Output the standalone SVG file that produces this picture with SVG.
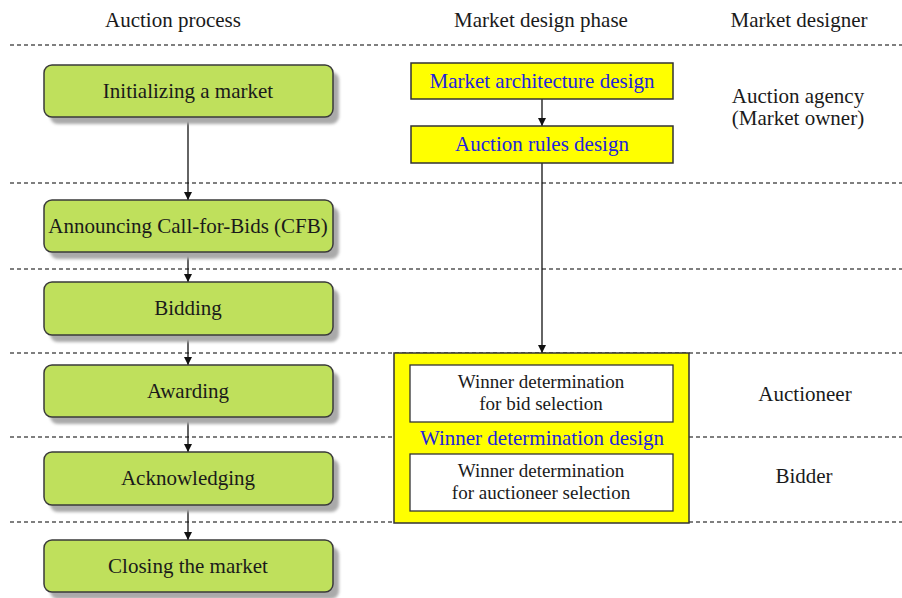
<svg xmlns="http://www.w3.org/2000/svg" width="902" height="598" viewBox="0 0 902 598">
<style>
text{font-family:"Liberation Serif","Times New Roman",serif;font-size:21px;fill:#1a1a1a;text-anchor:middle}
.blue{fill:#2323dd}
.small{font-size:19px}
.dash{stroke:#555;stroke-width:1.3;stroke-dasharray:4 3;fill:none}
.green{fill:#bfe05c;stroke:#3a3a3a;stroke-width:1.5}
.shadow{fill:#aaaaaa}
.yel{fill:#ffff00;stroke:#333;stroke-width:1.5}
.white{fill:#fff;stroke:#333;stroke-width:1.3}
.conn{stroke:#111;stroke-width:1.3;fill:none;marker-end:url(#ah)}
</style>
<defs>
<marker id="ah" markerWidth="10" markerHeight="10" refX="9" refY="5" orient="auto" markerUnits="userSpaceOnUse">
<path d="M1,1 L9,5 L1,9 Z" fill="#111"/>
</marker>
<filter id="blur" x="-10%" y="-20%" width="120%" height="140%"><feGaussianBlur stdDeviation="1.5"/></filter>
</defs>
<rect width="902" height="598" fill="#fff"/>
<g id="headers">
<text x="173" y="27">Auction process</text>
<text x="541" y="27">Market design phase</text>
<text x="799" y="27">Market designer</text>
</g>
<g id="separators">
<line class="dash" x1="10" y1="45" x2="902" y2="45"/>
<line class="dash" x1="10" y1="183" x2="902" y2="183"/>
<line class="dash" x1="10" y1="269" x2="902" y2="269"/>
<line class="dash" x1="10" y1="353" x2="902" y2="353"/>
<line class="dash" x1="10" y1="437" x2="902" y2="437"/>
<line class="dash" x1="10" y1="522" x2="902" y2="522"/>
</g>
<g id="connectors">
<line class="conn" x1="188" y1="117" x2="188" y2="200"/>
<line class="conn" x1="188" y1="252" x2="188" y2="282"/>
<line class="conn" x1="188" y1="335" x2="188" y2="365"/>
<line class="conn" x1="188" y1="417" x2="188" y2="452"/>
<line class="conn" x1="188" y1="505" x2="188" y2="540"/>
<line class="conn" x1="542" y1="99" x2="542" y2="126"/>
<line class="conn" x1="542" y1="163" x2="542" y2="353"/>
</g>
<g id="initializing">
<rect class="shadow" filter="url(#blur)" x="50" y="72" width="289" height="52" rx="8"/>
<rect class="green" x="44" y="65" width="289" height="52" rx="8"/>
<text x="188" y="98">Initializing a market</text>
</g>
<g id="announcing">
<rect class="shadow" filter="url(#blur)" x="50" y="207" width="289" height="52" rx="8"/>
<rect class="green" x="44" y="200" width="289" height="52" rx="8"/>
<text x="188" y="233">Announcing Call-for-Bids (CFB)</text>
</g>
<g id="bidding">
<rect class="shadow" filter="url(#blur)" x="50" y="289" width="289" height="53" rx="8"/>
<rect class="green" x="44" y="282" width="289" height="53" rx="8"/>
<text x="188" y="315">Bidding</text>
</g>
<g id="awarding">
<rect class="shadow" filter="url(#blur)" x="50" y="372" width="289" height="52" rx="8"/>
<rect class="green" x="44" y="365" width="289" height="52" rx="8"/>
<text x="188" y="398">Awarding</text>
</g>
<g id="acknowledging">
<rect class="shadow" filter="url(#blur)" x="50" y="459" width="289" height="53" rx="8"/>
<rect class="green" x="44" y="452" width="289" height="53" rx="8"/>
<text x="188" y="485">Acknowledging</text>
</g>
<g id="closing">
<rect class="shadow" filter="url(#blur)" x="50" y="547" width="289" height="52" rx="8"/>
<rect class="green" x="44" y="540" width="289" height="52" rx="8"/>
<text x="188" y="573">Closing the market</text>
</g>
<g id="architecture">
<rect class="yel" x="411" y="63" width="262" height="36"/>
<text class="blue" x="542" y="88">Market architecture design</text>
</g>
<g id="rules">
<rect class="yel" x="411" y="126" width="262" height="37"/>
<text class="blue" x="542" y="151">Auction rules design</text>
</g>
<g id="winner-design">
<rect class="yel" x="394" y="353" width="295" height="170" stroke-width="2"/>
<text class="blue" x="542" y="445">Winner determination design</text>
</g>
<g id="bid-selection">
<rect class="white" x="410" y="365" width="263" height="57"/>
<text class="small" x="541" y="388">Winner determination</text>
<text class="small" x="541" y="410">for bid selection</text>
</g>
<g id="auctioneer-selection">
<rect class="white" x="410" y="454" width="263" height="57"/>
<text class="small" x="541" y="477">Winner determination</text>
<text class="small" x="541" y="499">for auctioneer selection</text>
</g>
<g id="designers">
<text x="798" y="103">Auction agency</text>
<text x="798" y="125">(Market owner)</text>
<text x="805" y="401">Auctioneer</text>
<text x="804" y="483">Bidder</text>
</g>
</svg>
